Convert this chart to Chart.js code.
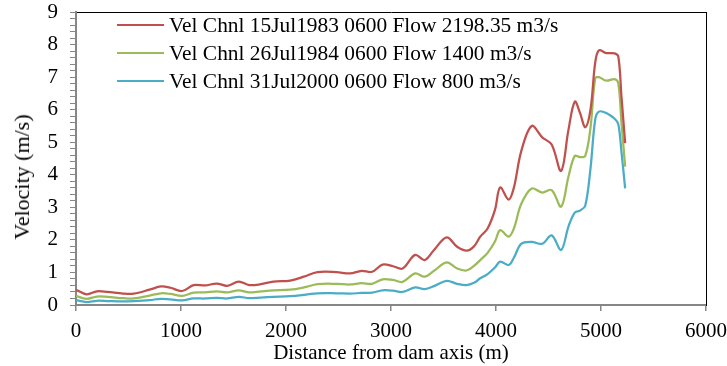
<!DOCTYPE html>
<html>
<head>
<meta charset="utf-8">
<script src="https://cdn.jsdelivr.net/npm/chart.js@4.4.0/dist/chart.umd.min.js"></script>
<style>
  html, body { margin: 0; padding: 0; background: #fff; }
  #wrap { position: relative; width: 727px; height: 366px; }
  #legend { position: absolute; left: 117px; top: 11px; font-family: "Liberation Serif", serif; font-size: 21.4px; color: #000; }
  #legend .row { height: 28px; line-height: 28px; white-space: nowrap; display: flex; align-items: center; }
  #legend .swatch { width: 47px; height: 2px; margin-right: 5px; }
  #yTitle { position: absolute; left: 22px; top: 177px; transform: translate(-50%, -50%) rotate(-90deg);
    font-family: "Liberation Serif", serif; font-size: 22px; color: #000; white-space: nowrap; line-height: 1; }
</style>
</head>
<body>
<div id="wrap">
  <canvas id="velChart"></canvas>
  <div id="legend"></div>
  <div id="yTitle"></div>
</div>
<script>
// distance from dam axis (m)
const distance = [0, 100, 200, 300, 450, 550, 700, 810, 900, 1010, 1120, 1230, 1340, 1440, 1550, 1650, 1760, 1880, 2040, 2170,
  2300, 2480, 2610, 2720, 2820, 2920, 3020, 3110, 3230, 3320, 3410, 3530, 3630, 3720, 3790, 3850, 3920, 3990, 4040, 4120,
  4170, 4240, 4340, 4440, 4530, 4620, 4690, 4750, 4800, 4850, 4900, 4945, 4980, 5050, 5130, 5165, 5195, 5230];

const vel1983 = [0.47, 0.33, 0.42, 0.40, 0.35, 0.35, 0.47, 0.57, 0.53, 0.43, 0.61, 0.60, 0.66, 0.59, 0.72, 0.61, 0.64, 0.72, 0.75, 0.87,
  1.01, 1.01, 0.97, 1.05, 1.02, 1.24, 1.19, 1.12, 1.54, 1.38, 1.69, 2.08, 1.79, 1.67, 1.80, 2.10, 2.35, 2.92, 3.61, 3.24,
  3.60, 4.72, 5.50, 5.15, 4.93, 4.12, 5.38, 6.25, 5.90, 5.46, 6.00, 7.45, 7.82, 7.74, 7.73, 7.63, 6.40, 4.97];

const vel1984 = [0.28, 0.19, 0.26, 0.25, 0.21, 0.20, 0.29, 0.36, 0.34, 0.28, 0.38, 0.39, 0.42, 0.39, 0.45, 0.39, 0.42, 0.45, 0.47, 0.54,
  0.64, 0.65, 0.63, 0.67, 0.65, 0.79, 0.77, 0.71, 0.97, 0.87, 1.05, 1.31, 1.12, 1.06, 1.20, 1.38, 1.60, 1.95, 2.30, 2.10,
  2.35, 3.10, 3.58, 3.45, 3.53, 3.02, 3.94, 4.58, 4.54, 4.58, 5.45, 6.96, 7.00, 6.89, 6.94, 6.81, 5.60, 4.25];

const vel2000 = [0.15, 0.09, 0.13, 0.12, 0.11, 0.12, 0.15, 0.19, 0.17, 0.14, 0.20, 0.20, 0.22, 0.20, 0.25, 0.21, 0.23, 0.25, 0.27, 0.31,
  0.36, 0.36, 0.35, 0.37, 0.38, 0.45, 0.44, 0.40, 0.54, 0.49, 0.58, 0.74, 0.65, 0.61, 0.68, 0.82, 0.95, 1.15, 1.33, 1.23,
  1.45, 1.88, 1.94, 1.88, 2.14, 1.69, 2.41, 2.84, 2.90, 3.05, 4.20, 5.70, 5.94, 5.90, 5.72, 5.55, 4.70, 3.58];

const seriesLabels = [
  'Vel Chnl 15Jul1983 0600 Flow 2198.35 m3/s',
  'Vel Chnl 26Jul1984 0600 Flow 1400 m3/s',
  'Vel Chnl 31Jul2000 0600 Flow 800 m3/s'
];
const seriesColors = ['#C0504D', '#9BBB59', '#4BACC6'];
const yAxisTitle = 'Velocity (m/s)';

const serif = "'Liberation Serif', 'Times New Roman', serif";
const axisGray = '#868686';

function toPoints(vals) {
  return vals.map((v, i) => ({ x: distance[i], y: v }));
}

const datasets = [vel1983, vel1984, vel2000].map((vals, i) => ({
  label: seriesLabels[i],
  data: toPoints(vals),
  borderColor: seriesColors[i],
  backgroundColor: seriesColors[i],
  borderWidth: 2.25,
  pointRadius: 0,
  tension: 0.35,
  fill: false
}));

const ctx = document.getElementById('velChart').getContext('2d');
const velChart = new Chart(ctx, {
  type: 'line',
  data: { datasets: datasets },
  options: {
    responsive: true,
    maintainAspectRatio: false,
    animation: false,
    layout: { padding: 0 },
    plugins: { legend: { display: false }, tooltip: { enabled: false } },
    scales: {
      x: {
        type: 'linear', position: 'bottom', min: 0, max: 6000,
        afterFit: s => { s.height = 61; s.paddingLeft = 0; s.paddingRight = 0; },
        ticks: { stepSize: 1000, color: '#000', font: { family: serif, size: 21 }, padding: 8, maxRotation: 0,
          callback: v => String(v) },
        grid: { drawOnChartArea: false, tickLength: 6, color: axisGray, lineWidth: 1.5 },
        border: { color: axisGray, width: 2 },
        title: { display: true, text: 'Distance from dam axis (m)', color: '#000', font: { family: serif, size: 21 }, padding: { top: 0, bottom: 0 } }
      },
      x2: {
        type: 'linear', position: 'top', min: 0, max: 6000,
        afterFit: s => { s.height = 12; s.paddingLeft = 0; s.paddingRight = 0; },
        ticks: { display: false },
        grid: { drawOnChartArea: false, drawTicks: false },
        border: { color: '#000', width: 1 }
      },
      y: {
        type: 'linear', position: 'left', min: 0, max: 9,
        afterFit: s => { s.width = 76; s.paddingTop = 0; s.paddingBottom = 0; },
        ticks: {
          stepSize: 0.2, maxTicksLimit: 46, autoSkip: false, color: '#000', font: { family: serif, size: 21 }, padding: 12,
          callback: v => Math.abs(v - Math.round(v)) < 1e-6 ? String(Math.round(v)) : ''
        },
        grid: { drawOnChartArea: false, tickLength: 6, color: axisGray, lineWidth: 1 },
        border: { color: axisGray, width: 2 },
        title: { display: false }
      },
      y2: {
        type: 'linear', position: 'right', min: 0, max: 9,
        afterFit: s => { s.width = 21; s.paddingTop = 0; s.paddingBottom = 0; },
        ticks: { display: false },
        grid: { drawOnChartArea: false, drawTicks: false },
        border: { color: '#000', width: 1 }
      }
    }
  }
});

// y title sits a bit below the axis centre, as in the source
document.getElementById('yTitle').textContent = yAxisTitle;

// legend inside plot, top-left
const legendEl = document.getElementById('legend');
velChart.data.datasets.forEach(ds => {
  const row = document.createElement('div');
  row.className = 'row';
  row.innerHTML = `<span class="swatch" style="background:${ds.borderColor}"></span><span>${ds.label}</span>`;
  legendEl.appendChild(row);
});
</script>
</body>
</html>
